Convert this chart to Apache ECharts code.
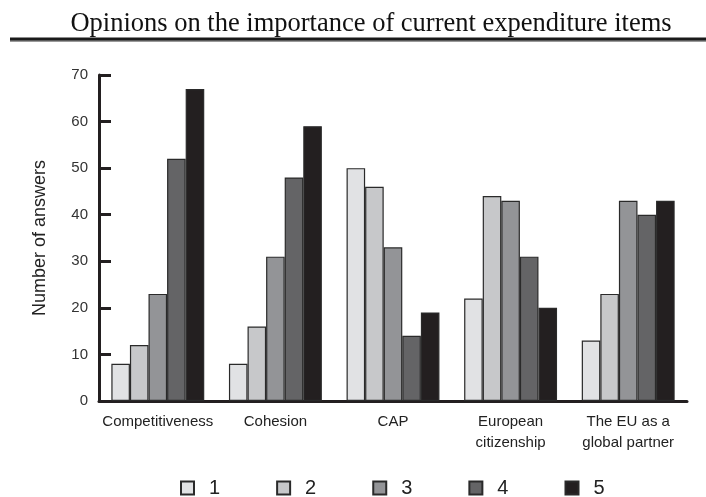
<!DOCTYPE html>
<html>
<head>
<meta charset="utf-8">
<script src="https://cdn.jsdelivr.net/npm/echarts@6/dist/echarts.min.js"></script>
<style>
html, body { margin: 0; padding: 0; background: #fff; }
#chart { width: 706px; height: 497px; }
</style>
</head>
<body>
<div id="chart"></div>
<script>
// Expenditure items asked about
const categories = ['Competitiveness', 'Cohesion', 'CAP', 'European\ncitizenship', 'The EU as a\nglobal partner'];
// Importance ratings 1..5 (legend entries)
const ratings = ['1', '2', '3', '4', '5'];
// Number of answers per rating, one array per rating, ordered as categories
const rating1 = [8, 8, 50, 22, 13];
const rating2 = [12, 16, 46, 44, 23];
const rating3 = [23, 31, 33, 43, 43];
const rating4 = [52, 48, 14, 31, 40];
const rating5 = [67, 59, 19, 20, 43];
const yTicks = { min: 0, max: 70, interval: 10 };

const fills = ['#e1e2e4', '#c7c8ca', '#939497', '#646466', '#231f20'];
const seriesData = [rating1, rating2, rating3, rating4, rating5];

const chart = echarts.init(document.getElementById('chart'));
chart.setOption({
  animation: false,
  title: {
    text: 'Opinions on the importance of current expenditure items',
    left: 366, top: 6, textAlign: 'center',
    textStyle: { fontFamily: 'Liberation Serif', fontSize: 26.5, fontWeight: 'normal', color: '#111' }
  },
  graphic: [
    { type: 'rect', shape: { x: 10, y: 40, width: 696, height: 2 }, style: { fill: '#9a9a9a' } },
    { type: 'rect', shape: { x: 10, y: 37.5, width: 696, height: 3 }, style: { fill: '#1a1a1a' } }
  ],
  grid: { left: 99, right: 19, top: 75, bottom: 96, containLabel: false },
  legend: {
    data: ratings,
    left: 175, top: 473,
    icon: 'rect', itemWidth: 13, itemHeight: 13, itemGap: 56,
    textStyle: { fontFamily: 'Liberation Sans', fontSize: 20, color: '#222', padding: [0, 0, 0, 10] }
  },
  xAxis: {
    type: 'category',
    data: categories,
    axisLine: { lineStyle: { color: '#231f20', width: 3 } },
    axisTick: { inside: true, length: 8, lineStyle: { color: '#231f20', width: 2 } },
    axisLabel: { interval: 0, fontFamily: 'Liberation Sans', fontSize: 15, color: '#222', margin: 10, lineHeight: 21 }
  },
  yAxis: {
    type: 'value',
    min: yTicks.min, max: yTicks.max, interval: yTicks.interval,
    name: 'Number of answers', nameLocation: 'middle', nameGap: 50, nameRotate: 90,
    nameTextStyle: { fontFamily: 'Liberation Sans', fontSize: 18, color: '#222' },
    axisLine: { show: true, lineStyle: { color: '#231f20', width: 3 } },
    axisTick: { show: true, inside: true, length: 12, lineStyle: { color: '#231f20', width: 3 } },
    splitLine: { show: false },
    axisLabel: { fontFamily: 'Liberation Sans', fontSize: 15, color: '#333', margin: 11, padding: [7, 0, 0, 0] }
  },
  series: seriesData.map((d, i) => ({
    name: ratings[i],
    type: 'bar',
    data: d,
    barGap: '0%',
    barCategoryGap: '21%',
    itemStyle: { color: fills[i], borderColor: '#2a2a2a', borderWidth: 1.2 }
  }))
});
</script>
</body>
</html>
